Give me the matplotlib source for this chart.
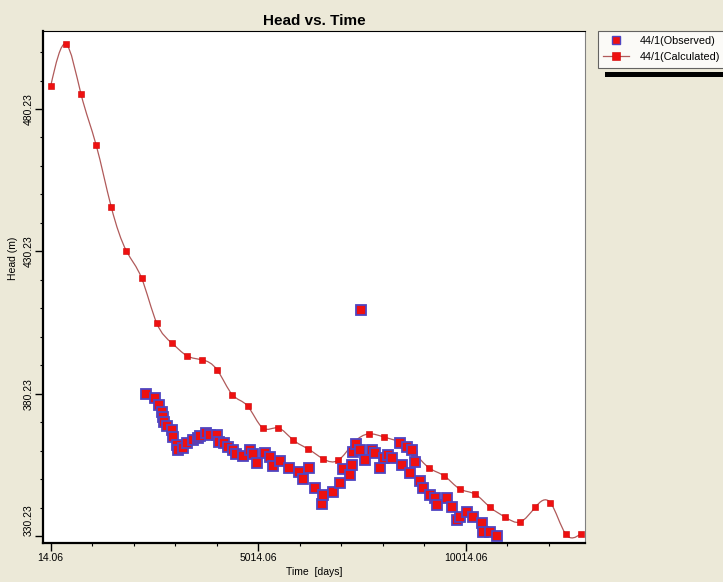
import numpy as np
import matplotlib
matplotlib.use("Agg")
from matplotlib import pyplot as plt
from matplotlib.path import Path
from matplotlib.patches import PathPatch, Rectangle
from matplotlib.lines import Line2D
from matplotlib.ticker import FixedLocator, FormatStrFormatter

plt.rcParams['font.family'] = ['Liberation Sans', 'DejaVu Sans']

# calculated heads (one per year)
calc_time = [14, 379, 744, 1109, 1474, 1839, 2204, 2569, 2934, 3299, 3664, 4029,
             4394, 4759, 5124, 5489, 5854, 6219, 6584, 6949, 7314, 7679, 8044, 8409,
             8774, 9139, 9504, 9869, 10234, 10599, 10964, 11329, 11694, 12059, 12424, 12789]
calc_head = [488.3, 503.0, 485.5, 467.6, 445.8, 430.4, 420.9, 405.1, 398.1, 393.6, 392.2, 388.6,
             379.9, 376.0, 368.3, 368.3, 364.1, 360.9, 357.4, 357.0, 363.0, 366.2, 365.1, 363.4,
             359.5, 354.2, 351.4, 346.9, 345.1, 340.5, 337.0, 335.3, 340.5, 342.0, 331.1, 331.1]

# observed heads
obs_time = [2311, 2528, 2624, 2689, 2713, 2745, 2810, 2945, 2969, 3051, 3089, 3210, 3292,
            3451, 3571, 3612, 3757, 3853, 4015, 4077, 4191, 4294, 4415, 4480, 4656, 4817,
            4897, 4979, 5179, 5299, 5379, 5540, 5764, 6005, 6102, 6246, 6384, 6545, 6584,
            6825, 6986, 7066, 7227, 7268, 7307, 7372, 7468, 7492, 7589, 7750, 7830, 7950,
            8047, 8150, 8232, 8432, 8473, 8594, 8673, 8714, 8794, 8914, 8994, 9155, 9276,
            9317, 9558, 9678, 9799, 9878, 10040, 10199, 10401, 10440, 10601, 10763]
obs_head = [380.2, 378.8, 376.4, 374.0, 372.3, 370.2, 368.8, 367.6, 365.0, 362.3, 360.6, 361.2, 363.1,
            364.1, 364.7, 365.5, 366.4, 365.8, 365.8, 363.5, 362.9, 361.7, 360.6, 359.2, 358.5, 360.6,
            359.2, 356.1, 359.6, 358.0, 355.0, 356.8, 354.2, 352.9, 350.3, 354.2, 347.1, 341.6, 344.8,
            345.9, 348.9, 353.8, 351.8, 355.3, 360.0, 362.7, 360.6, 409.7, 357.1, 360.6, 359.4, 354.2,
            357.8, 358.8, 357.7, 362.9, 355.3, 361.7, 352.6, 360.6, 356.5, 349.5, 347.1, 344.8, 343.6,
            341.3, 343.6, 340.7, 336.0, 337.2, 338.9, 337.2, 334.9, 331.9, 331.9, 330.2]

x_major = [14.06, 5014.06, 10014.06]
x_minor = [1014.06, 2014.06, 3014.06, 4014.06, 6014.06, 7014.06, 8014.06, 9014.06, 11014.06, 12014.06]
y_major = [330.23, 380.23, 430.23, 480.23]
y_minor = [320.23, 340.23, 350.23, 360.23, 370.23, 390.23, 400.23, 410.23, 420.23,
           440.23, 450.23, 460.23, 470.23, 490.23, 500.23]

bg = '#ece9d8'
line_col = '#b05a5a'
red = '#ee1010'
edge_obs = '#4f45c2'

fig = plt.figure(figsize=(7.23, 5.82), dpi=100, facecolor=bg)
ax = fig.add_axes([0.0599, 0.067, 0.7491, 0.8797])
ax.set_facecolor('white')

# natural cubic spline through the calculated points, drawn as bezier segments
t = np.array(calc_time, dtype=float)
y = np.array(calc_head, dtype=float)
n = len(t)
h = np.diff(t)
A = np.zeros((n, n))
b = np.zeros(n)
A[0, 0] = 1
A[-1, -1] = 1
for i in range(1, n - 1):
    A[i, i - 1] = h[i - 1]
    A[i, i] = 2 * (h[i - 1] + h[i])
    A[i, i + 1] = h[i]
    b[i] = 6 * ((y[i + 1] - y[i]) / h[i] - (y[i] - y[i - 1]) / h[i - 1])
M = np.linalg.solve(A, b)
slope = np.zeros(n)
for i in range(n - 1):
    slope[i] = (y[i + 1] - y[i]) / h[i] - h[i] * (2 * M[i] + M[i + 1]) / 6
slope[-1] = (y[-1] - y[-2]) / h[-1] + h[-1] * (M[-2] + 2 * M[-1]) / 6
verts = [(t[0], y[0])]
codes = [Path.MOVETO]
for i in range(n - 1):
    verts += [(t[i] + h[i] / 3, y[i] + slope[i] * h[i] / 3),
              (t[i + 1] - h[i] / 3, y[i + 1] - slope[i + 1] * h[i] / 3),
              (t[i + 1], y[i + 1])]
    codes += [Path.CURVE4] * 3
ax.add_patch(PathPatch(Path(verts, codes), facecolor='none', edgecolor=line_col, lw=0.9, zorder=2))

ax.plot(calc_time, calc_head, linestyle='none', marker='s', markersize=5,
        markerfacecolor=red, markeredgecolor='#d00000', markeredgewidth=0.4, zorder=3)
ax.plot(obs_time, obs_head, linestyle='none', marker='s', markersize=7.8,
        markerfacecolor=red, markeredgecolor=edge_obs, markeredgewidth=1.3, zorder=4)

ax.set_xlim(-164, 12889)
ax.set_ylim(327.9, 507.6)

ax.xaxis.set_major_locator(FixedLocator(x_major))
ax.xaxis.set_minor_locator(FixedLocator(x_minor))
ax.yaxis.set_major_locator(FixedLocator(y_major))
ax.yaxis.set_minor_locator(FixedLocator(y_minor))
ax.xaxis.set_major_formatter(FormatStrFormatter('%.2f'))
ax.yaxis.set_major_formatter(FormatStrFormatter('%.2f'))

ax.tick_params(which='major', direction='out', length=5.5, width=1, labelsize=7.5, pad=1.5, colors='black')
ax.tick_params(which='minor', direction='out', length=2.5, width=0.8)
for lbl in ax.get_yticklabels():
    lbl.set_rotation(90)
    lbl.set_va('center')
    if lbl.get_text() == '330.23':
        lbl.set_va('bottom')

for s in ['left', 'bottom']:
    ax.spines[s].set_linewidth(1.6)
ax.spines['top'].set_linewidth(0.8)
ax.spines['right'].set_linewidth(0.8)
ax.spines['right'].set_color('#808080')

ax.set_xlabel('Time  [days]', fontsize=7.5, labelpad=3)
ax.set_ylabel('Head (m)', fontsize=7.5)
ax.yaxis.set_label_coords(-0.047, 0.557)
ax.set_title('Head vs. Time', fontsize=11, fontweight='bold', pad=4)

handles = [
    Line2D([], [], linestyle='none', marker='s', markersize=5.5, markerfacecolor=red,
           markeredgecolor=edge_obs, markeredgewidth=1.0),
    Line2D([], [], color=line_col, lw=0.9, marker='s', markersize=5.5,
           markerfacecolor=red, markeredgecolor='#d00000', markeredgewidth=0.4),
]
leg = fig.legend(handles, ['44/1(Observed)', '44/1(Calculated)'], loc='upper left',
                 bbox_to_anchor=(0.827, 0.947), fontsize=7.8, frameon=True, fancybox=False,
                 borderaxespad=0, handlelength=2.4, borderpad=0.5, labelspacing=0.55,
                 handletextpad=1.0)
leg.get_frame().set_edgecolor('#404040')
leg.get_frame().set_linewidth(0.8)
leg.get_frame().set_facecolor('white')

fig.patches.append(Rectangle((0.837, 0.8677), 0.163, 0.0085, transform=fig.transFigure,
                             facecolor='black', edgecolor='none'))

fig.savefig('out.png', dpi=100, facecolor=bg)
